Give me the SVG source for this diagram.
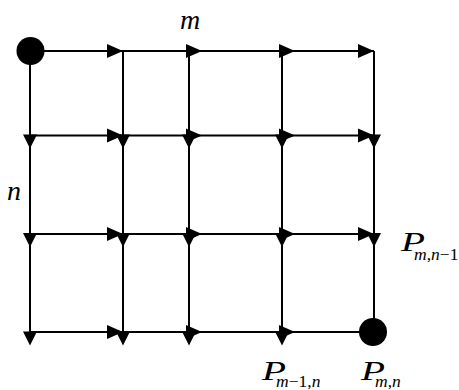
<svg xmlns="http://www.w3.org/2000/svg" width="459" height="390" viewBox="0 0 459 390">
<style>
.ln{stroke:#000;stroke-width:2;fill:none}
.t{font-family:"Liberation Serif",serif;font-style:italic;fill:#000}
.r{font-style:normal}
.s{font-size:17.5px}
</style>
<defs>
<polygon id="ar" points="0,0 -16,-7 -16,7" fill="#000"/>
<polygon id="ad" points="0,0 -7,-14 7,-14" fill="#000"/>
</defs>
<rect width="459" height="390" fill="#fff"/>
<g id="connectors">
<g class="ln">
<line x1="30" y1="51" x2="374" y2="51"/>
<line x1="30" y1="135.5" x2="374" y2="135.5"/>
<line x1="30" y1="234" x2="374" y2="234"/>
<line x1="30" y1="332" x2="374" y2="332"/>
<line x1="30" y1="51" x2="30" y2="332"/>
<line x1="123" y1="51" x2="123" y2="332"/>
<line x1="189" y1="51" x2="189" y2="332"/>
<line x1="282" y1="51" x2="282" y2="332"/>
<line x1="374" y1="51" x2="374" y2="332"/>
</g>
<g id="right-arrows">
<use href="#ar" x="123" y="51"/><use href="#ar" x="202" y="51"/><use href="#ar" x="295" y="51"/><use href="#ar" x="374" y="51"/>
<use href="#ar" x="123" y="135.5"/><use href="#ar" x="202" y="135.5"/><use href="#ar" x="295" y="135.5"/><use href="#ar" x="374" y="135.5"/>
<use href="#ar" x="123" y="234"/><use href="#ar" x="202" y="234"/><use href="#ar" x="295" y="234"/><use href="#ar" x="374" y="234"/>
<use href="#ar" x="123" y="332"/><use href="#ar" x="202" y="332"/><use href="#ar" x="295" y="332"/>
</g>
<g id="down-arrows">
<use href="#ad" x="30" y="148.5"/><use href="#ad" x="123" y="148.5"/><use href="#ad" x="189" y="148.5"/><use href="#ad" x="282" y="148.5"/><use href="#ad" x="374" y="148.5"/>
<use href="#ad" x="30" y="247"/><use href="#ad" x="123" y="247"/><use href="#ad" x="189" y="247"/><use href="#ad" x="282" y="247"/><use href="#ad" x="374" y="247"/>
<use href="#ad" x="30" y="345.5"/><use href="#ad" x="123" y="345.5"/><use href="#ad" x="189" y="345.5"/><use href="#ad" x="282" y="345.5"/>
</g>
</g>
<g id="start"><circle cx="30.5" cy="51" r="14" fill="#000"/></g>
<g id="end"><circle cx="373" cy="332" r="14" fill="#000"/></g>
<g id="label-m"><text class="t" x="180" y="29" font-size="28">m</text></g>
<g id="label-n"><text class="t" x="7" y="200" font-size="28">n</text></g>
<g id="label-pmn1"><text class="t" font-size="27"><tspan x="401" y="251" textLength="24" lengthAdjust="spacingAndGlyphs">P</tspan><tspan class="s" x="414" y="260">m<tspan class="r">,</tspan>n<tspan class="r">−1</tspan></tspan></text></g>
<g id="label-pm1n"><text class="t" font-size="27"><tspan x="262" y="380" textLength="24" lengthAdjust="spacingAndGlyphs">P</tspan><tspan class="s" x="276" y="387">m<tspan class="r">−1,</tspan>n</tspan></text></g>
<g id="label-pmn"><text class="t" font-size="27"><tspan x="361" y="380" textLength="24" lengthAdjust="spacingAndGlyphs">P</tspan><tspan class="s" x="375" y="387">m<tspan class="r">,</tspan>n</tspan></text></g>
</svg>
